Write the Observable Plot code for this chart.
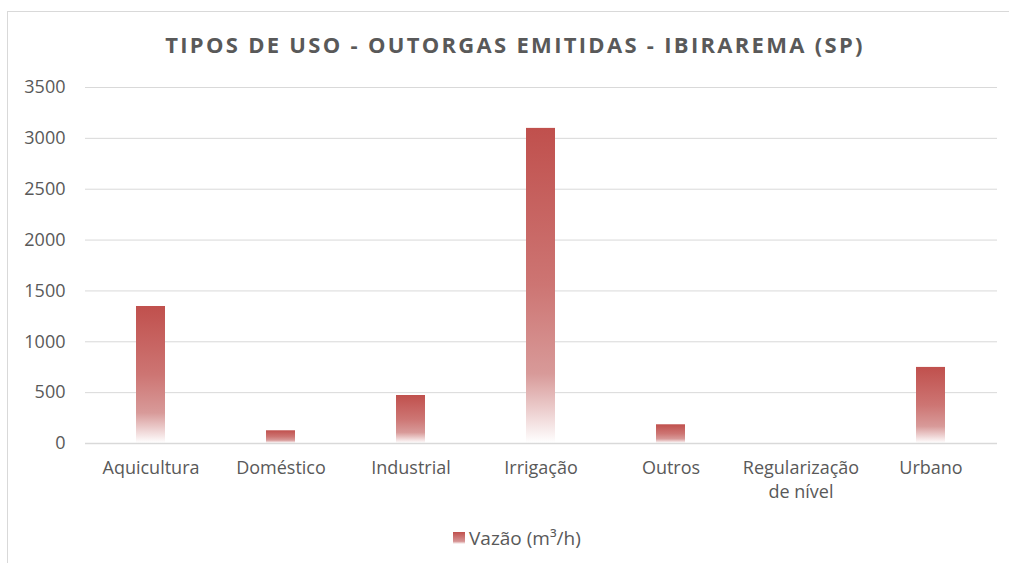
<!DOCTYPE html>
<html>
<head>
<meta charset="utf-8">
<script src="https://cdn.jsdelivr.net/npm/d3@7"></script>
<script src="https://cdn.jsdelivr.net/npm/@observablehq/plot@0.6"></script>
<style>
  html, body { margin: 0; padding: 0; background: #fff; }
  #wrap { position: relative; width: 1009px; height: 563px; overflow: hidden; font-family: "Open Sans", sans-serif; }
  #frame { position: absolute; left: 7px; top: 11px; right: -2px; bottom: -2px; border-left: 1.5px solid #D9D9D9; border-top: 1.5px solid #D9D9D9; }
  #title { position: absolute; left: 0; width: 1030px; top: 29px; text-align: center; font-size: 22px; font-weight: 700; color: #595959; letter-spacing: 2.3px; white-space: nowrap; }
  #chart { position: absolute; left: 0; top: 70px; }
  #legend { position: absolute; top: 525px; left: 453px; font-size: 19px; color: #595959; display: flex; align-items: center; }
  #legend .sw { width: 12px; height: 12px; margin-right: 4px; background: linear-gradient(#C0504D, #D69494 78%, #fff); }
</style>
</head>
<body>
<div id="wrap">
  <div id="frame"></div>
  <div id="title">TIPOS DE USO - OUTORGAS EMITIDAS - IBIRAREMA (SP)</div>
  <div id="chart"></div>
  <div id="legend"><span class="sw"></span><span>Vazão (m³/h)</span></div>
</div>
<script>
const categories = ["Aquicultura", "Doméstico", "Industrial", "Irrigação", "Outros", "Regularização de nível", "Urbano"];
const tickLabels = ["Aquicultura", "Doméstico", "Industrial", "Irrigação", "Outros", "Regularização\nde nível", "Urbano"];
const vazao = [1347, 125, 472, 3098, 184, 0, 748];
const yTicks = [0, 500, 1000, 1500, 2000, 2500, 3000, 3500];

const data = categories.map((c, i) => ({category: c, value: vazao[i]}));
const labelOf = new Map(categories.map((c, i) => [c, tickLabels[i]]));

const defs = () => {
  const ns = "http://www.w3.org/2000/svg";
  const g = document.createElementNS(ns, "defs");
  g.innerHTML = `<linearGradient id="barGrad" x1="0" y1="0" x2="0" y2="1">
    <stop offset="0" stop-color="#C0504D"/>
    <stop offset="0.5" stop-color="#CD7573"/>
    <stop offset="0.78" stop-color="#D89A99"/>
    <stop offset="0.9" stop-color="#EDD0D0"/>
    <stop offset="1" stop-color="#FFFFFF"/>
  </linearGradient>`;
  return g;
};

const chart = Plot.plot({
  width: 1009,
  height: 440,
  marginLeft: 85,
  marginRight: 12,
  marginTop: 17,
  marginBottom: 67,
  style: {fontFamily: "Open Sans, sans-serif", fontSize: "18px", color: "#595959", background: "transparent"},
  x: {domain: categories, paddingInner: 0.775, paddingOuter: 0.3875, label: null},
  y: {domain: [0, 3500], label: null},
  marks: [
    defs,
    Plot.gridY(yTicks, {stroke: "#D9D9D9", strokeOpacity: 1, strokeWidth: 1}),
    Plot.axisY(yTicks, {tickSize: 0, tickPadding: 20, fontSize: 18, fill: "#595959", tickFormat: d => String(d), label: null}),
    Plot.axisX({tickSize: 0, tickPadding: 14, fontSize: 18, fill: "#595959", tickFormat: d => labelOf.get(d), lineHeight: 1.3, label: null}),
    Plot.barY(data, {x: "category", y: "value", fill: "url(#barGrad)"}),
    Plot.ruleY([0], {stroke: "#D9D9D9", strokeWidth: 1.5})
  ]
});
document.getElementById("chart").appendChild(chart);
</script>
</body>
</html>
